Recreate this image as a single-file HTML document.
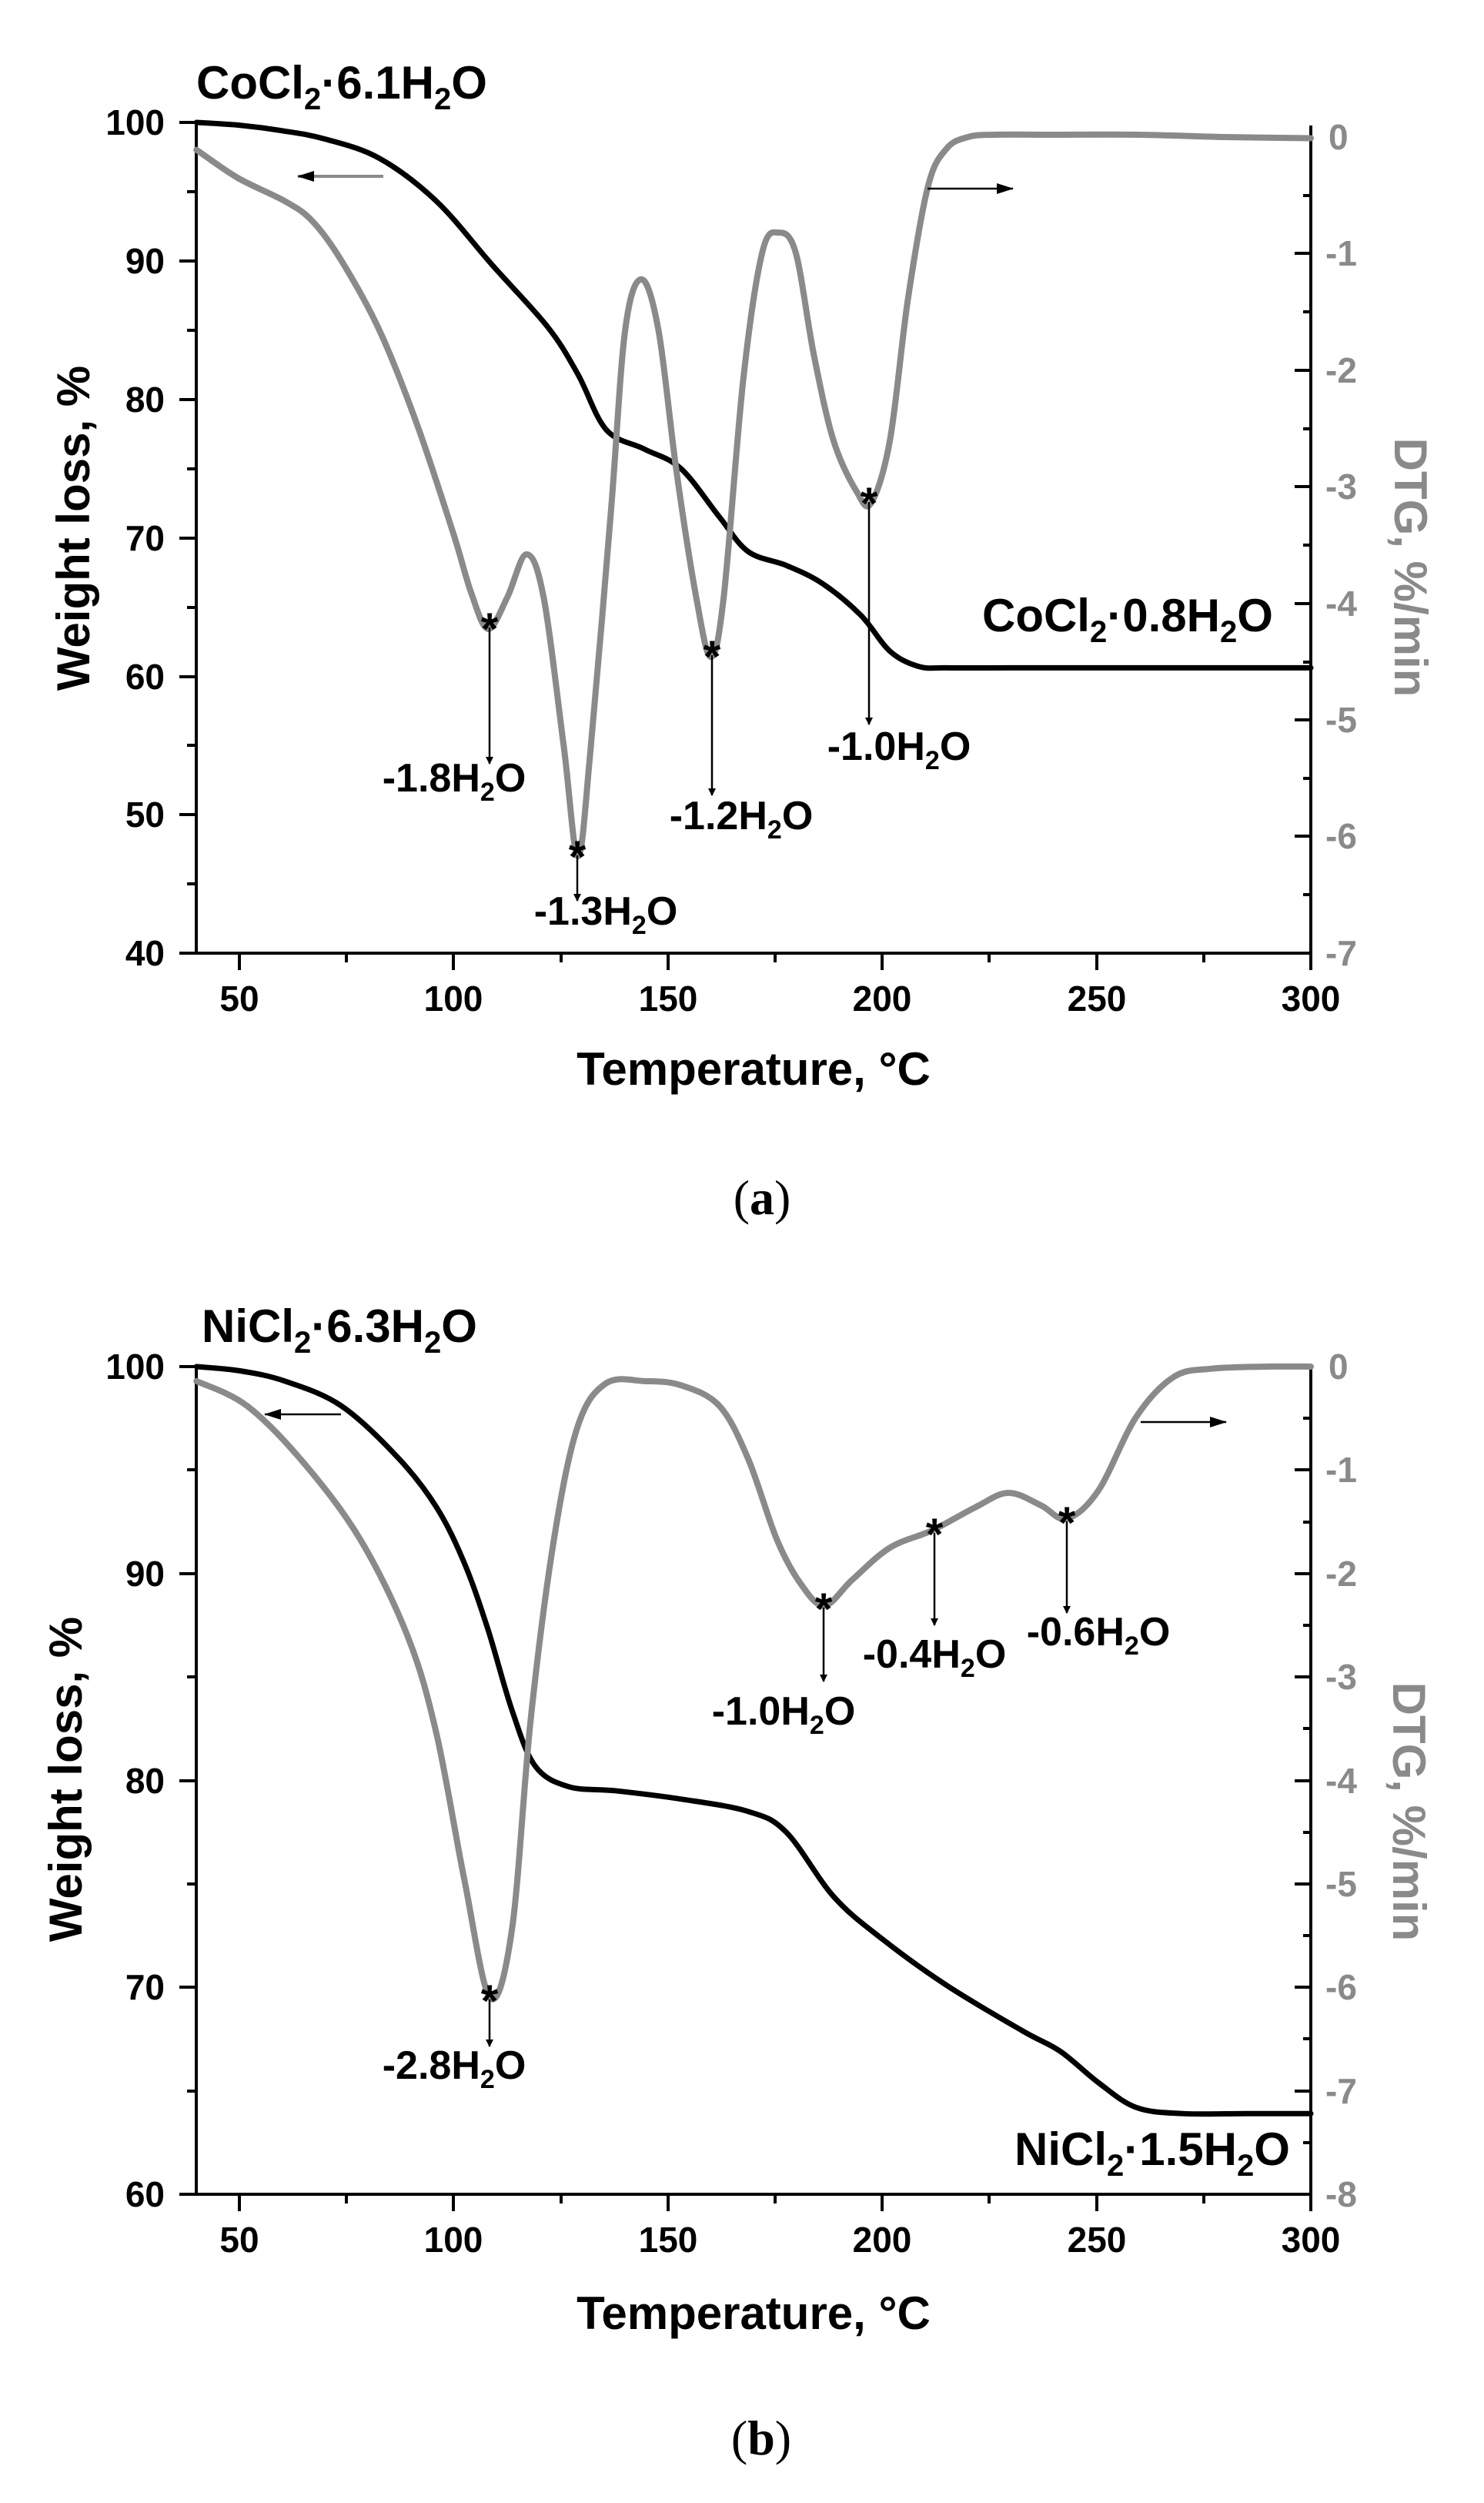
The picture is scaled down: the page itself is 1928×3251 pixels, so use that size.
<!DOCTYPE html>
<html><head><meta charset="utf-8"><style>
html,body{margin:0;padding:0;background:#fff;}
svg{display:block;}
text{font-family:"Liberation Sans",Arial,sans-serif;font-weight:bold;}
</style></head><body>
<svg width="1928" height="3251" viewBox="0 0 1928 3251" xmlns="http://www.w3.org/2000/svg">
<defs>
<marker id="ah" markerWidth="10" markerHeight="10" refX="9" refY="5" orient="auto" markerUnits="userSpaceOnUse"><path d="M0,0 L10,5 L0,10 z" fill="#000"/></marker>
<marker id="ah2" markerWidth="22" markerHeight="14" refX="21" refY="7" orient="auto" markerUnits="userSpaceOnUse"><path d="M0,0 L22,7 L0,14 z" fill="#000"/></marker>
</defs>
<rect width="1928" height="3251" fill="#fff"/>

<!-- ============ CHART A ============ -->
<g stroke="#000" stroke-width="4" fill="none">
<line x1="255" y1="159" x2="255" y2="1240"/>
<line x1="233" y1="1238" x2="1705" y2="1238"/>
<line x1="1703" y1="163" x2="1703" y2="1240"/>
<path d="M233,159H255M233,339H255M233,519H255M233,699H255M233,879H255M233,1058H255M243,249H255M243,429H255M243,609H255M243,789H255M243,968H255M243,1148H255"/>
<path d="M1682,178H1703M1682,329H1703M1682,481H1703M1682,632H1703M1682,784H1703M1682,935H1703M1682,1086H1703M1693,254H1703M1693,405H1703M1693,557H1703M1693,708H1703M1693,860H1703M1693,1011H1703M1693,1162H1703"/>
<path d="M311,1238V1260M589,1238V1260M868,1238V1260M1146,1238V1260M1425,1238V1260M1703,1238V1260M450,1238V1250M729,1238V1250M1007,1238V1250M1285,1238V1250M1564,1238V1250"/>
</g>
<g font-size="46" text-anchor="end" fill="#000">
<text x="214" y="175">100</text><text x="214" y="355">90</text><text x="214" y="535">80</text><text x="214" y="715">70</text><text x="214" y="895">60</text><text x="214" y="1074">50</text><text x="214" y="1254">40</text>
</g>
<g font-size="46" fill="#8a8a8a">
<text x="1726" y="194">0</text><text x="1722" y="345">-1</text><text x="1722" y="497">-2</text><text x="1722" y="648">-3</text><text x="1722" y="800">-4</text><text x="1722" y="951">-5</text><text x="1722" y="1102">-6</text><text x="1722" y="1254">-7</text>
</g>
<g font-size="46" text-anchor="middle" fill="#000">
<text x="311" y="1313">50</text><text x="589" y="1313">100</text><text x="868" y="1313">150</text><text x="1146" y="1313">200</text><text x="1425" y="1313">250</text><text x="1703" y="1313">300</text>
</g>
<text x="979" y="1409" font-size="60" text-anchor="middle">Temperature, °C</text>
<text transform="translate(116,686) rotate(-90)" font-size="60" text-anchor="middle">Weight loss, %</text>
<text transform="translate(1812,737) rotate(90)" font-size="60" text-anchor="middle" fill="#8a8a8a">DTG, %/min</text>
<text x="255" y="128" font-size="60">CoCl<tspan dy="14" font-size="40">2</tspan><tspan dy="-14">·6.1H</tspan><tspan dy="14" font-size="40">2</tspan><tspan dy="-14">O</tspan></text>
<text x="1276" y="820" font-size="60">CoCl<tspan dy="14" font-size="40">2</tspan><tspan dy="-14">·0.8H</tspan><tspan dy="14" font-size="40">2</tspan><tspan dy="-14">O</tspan></text>

<g fill="none" stroke-linejoin="round" stroke-linecap="round">
<polyline class="sm" transform="translate(32.6,1957) scale(5.568,-17.98)" vector-effect="non-scaling-stroke" stroke="#000" stroke-width="7"
points="40,100 50,99.8 60,99.4 70,98.8 82.7,97.4 96,94.3 109,89.7 122,85.2 129,81.8 135.6,77.8 144.5,76.4 153,75 162,71.5 168.7,69 177.6,68 186,66.7 195,64.4 201.8,61.8 208.5,60.7 215,60.6 230,60.6 250,60.6 275,60.6 300,60.6"/>
<polyline class="sm" transform="translate(32.6,178) scale(5.568,-151.4)" vector-effect="non-scaling-stroke" stroke="#8a8a8a" stroke-width="8"
points="40,-0.11 49.6,-0.35 60.6,-0.55 67,-0.72 73.8,-1.06 82.7,-1.66 91.5,-2.47 100,-3.41 104,-3.9 108,-4.22 112.5,-3.95 117,-3.58 121,-3.95 125.7,-5.23 129,-6.17 132,-5.23 136.7,-3.21 140,-1.66 143.8,-1.22 147.8,-1.66 152,-2.87 156.6,-3.95 160,-4.46 163,-3.95 167.6,-2.07 172,-0.99 175.8,-0.82 179.8,-0.99 184,-1.86 188.6,-2.6 194,-3.04 197.4,-3.14 201.8,-2.6 206,-1.39 210.7,-0.42 215,-0.1 220,0 226,0.02 240,0.02 260,0.02 280,0 300,-0.01"/>
</g>
<g stroke="#000" stroke-width="2.5" fill="none">
<line x1="636" y1="815" x2="636" y2="992" marker-end="url(#ah)"/>
<line x1="750" y1="1111" x2="750" y2="1170" marker-end="url(#ah)"/>
<line x1="925" y1="851" x2="925" y2="1033" marker-end="url(#ah)"/>
<line x1="1129" y1="652" x2="1129" y2="941" marker-end="url(#ah)"/>
<line x1="498" y1="229" x2="387" y2="229" stroke="#8a8a8a" stroke-width="4" marker-end="url(#ah2)"/>
<line x1="1205" y1="245" x2="1316" y2="245" marker-end="url(#ah2)"/>
</g>
<g font-size="58" text-anchor="middle" fill="#000">
<text x="636" y="837">*</text><text x="750" y="1133">*</text><text x="925" y="873">*</text><text x="1129" y="674">*</text>
</g>
<g font-size="52" text-anchor="middle">
<text x="590" y="1028">-1.8H<tspan dy="12" font-size="34">2</tspan><tspan dy="-12">O</tspan></text>
<text x="787" y="1201">-1.3H<tspan dy="12" font-size="34">2</tspan><tspan dy="-12">O</tspan></text>
<text x="963" y="1077">-1.2H<tspan dy="12" font-size="34">2</tspan><tspan dy="-12">O</tspan></text>
<text x="1168" y="987">-1.0H<tspan dy="12" font-size="34">2</tspan><tspan dy="-12">O</tspan></text>
</g>
<text x="990" y="1577" font-size="64" text-anchor="middle" style="font-family:'Liberation Serif',serif;font-weight:normal">(<tspan font-weight="bold">a</tspan>)</text>

<!-- ============ CHART B ============ -->
<g stroke="#000" stroke-width="4" fill="none">
<line x1="255" y1="1775" x2="255" y2="2852"/>
<line x1="233" y1="2850" x2="1705" y2="2850"/>
<line x1="1703" y1="1775" x2="1703" y2="2852"/>
<path d="M233,1775H255M233,2044H255M233,2313H255M233,2581H255M243,1909H255M243,2178H255M243,2447H255M243,2716H255"/>
<path d="M1682,1775H1703M1682,1909H1703M1682,2044H1703M1682,2178H1703M1682,2313H1703M1682,2447H1703M1682,2581H1703M1682,2716H1703M1693,1842H1703M1693,1977H1703M1693,2111H1703M1693,2245H1703M1693,2380H1703M1693,2514H1703M1693,2648H1703M1693,2783H1703"/>
<path d="M311,2850V2872M589,2850V2872M868,2850V2872M1146,2850V2872M1425,2850V2872M1703,2850V2872M450,2850V2862M729,2850V2862M1007,2850V2862M1285,2850V2862M1564,2850V2862"/>
</g>
<g font-size="46" text-anchor="end" fill="#000">
<text x="214" y="1791">100</text><text x="214" y="2060">90</text><text x="214" y="2329">80</text><text x="214" y="2597">70</text><text x="214" y="2866">60</text>
</g>
<g font-size="46" fill="#8a8a8a">
<text x="1726" y="1791">0</text><text x="1722" y="1925">-1</text><text x="1722" y="2060">-2</text><text x="1722" y="2194">-3</text><text x="1722" y="2329">-4</text><text x="1722" y="2463">-5</text><text x="1722" y="2597">-6</text><text x="1722" y="2732">-7</text><text x="1722" y="2866">-8</text>
</g>
<g font-size="46" text-anchor="middle" fill="#000">
<text x="311" y="2925">50</text><text x="589" y="2925">100</text><text x="868" y="2925">150</text><text x="1146" y="2925">200</text><text x="1425" y="2925">250</text><text x="1703" y="2925">300</text>
</g>
<text x="979" y="3025" font-size="60" text-anchor="middle">Temperature, °C</text>
<text transform="translate(106,2311) rotate(-90)" font-size="60" text-anchor="middle">Weight loss, %</text>
<text transform="translate(1810,2353) rotate(90)" font-size="60" text-anchor="middle" fill="#8a8a8a">DTG, %/min</text>
<text x="262" y="1743" font-size="60">NiCl<tspan dy="14" font-size="40">2</tspan><tspan dy="-14">·6.3H</tspan><tspan dy="14" font-size="40">2</tspan><tspan dy="-14">O</tspan></text>
<text x="1318" y="2812" font-size="60">NiCl<tspan dy="14" font-size="40">2</tspan><tspan dy="-14">·1.5H</tspan><tspan dy="14" font-size="40">2</tspan><tspan dy="-14">O</tspan></text>

<g fill="none" stroke-linejoin="round" stroke-linecap="round">
<polyline class="sm" transform="translate(32.6,4462.5) scale(5.568,-26.875)" vector-effect="non-scaling-stroke" stroke="#000" stroke-width="7"
points="40,100 50,99.8 60.6,99.3 73.8,98.1 87,95.6 96,93.2 102.5,90.5 108,87.3 113.6,83.4 119,80.7 126.8,79.7 137.8,79.5 153,79.1 168.7,78.5 177.6,77.5 188.6,74.4 199.6,72.4 215,70.1 232.7,67.9 241.6,66.9 250.4,65.4 259.2,64.2 270,63.9 285,63.9 300,63.9"/>
<polyline class="sm" transform="translate(32.6,1775) scale(5.568,-134.4)" vector-effect="non-scaling-stroke" stroke="#8a8a8a" stroke-width="8"
points="40,-0.14 51.8,-0.38 65,-0.93 78.2,-1.67 89.3,-2.61 96,-3.55 102.5,-4.96 108.5,-6.1 113.6,-5.44 118,-3.4 123.4,-1.67 129,-0.57 135.6,-0.16 144.5,-0.14 153,-0.18 162,-0.38 168.7,-0.89 175.4,-1.67 181,-2.1 186.5,-2.31 193,-2.06 201.8,-1.75 211.8,-1.58 221.7,-1.36 229.4,-1.22 237,-1.34 243,-1.47 250.4,-1.2 259.2,-0.49 268,-0.1 276.9,-0.02 290,0 300,0"/>
</g>
<g stroke="#000" stroke-width="2.5" fill="none">
<line x1="636" y1="2597" x2="636" y2="2658" marker-end="url(#ah)"/>
<line x1="1070" y1="2088" x2="1070" y2="2184" marker-end="url(#ah)"/>
<line x1="1214" y1="1991" x2="1214" y2="2111" marker-end="url(#ah)"/>
<line x1="1386" y1="1976" x2="1386" y2="2095" marker-end="url(#ah)"/>
<line x1="443" y1="1837" x2="344" y2="1837" marker-end="url(#ah2)"/>
<line x1="1482" y1="1847" x2="1593" y2="1847" marker-end="url(#ah2)"/>
</g>
<g font-size="58" text-anchor="middle" fill="#000">
<text x="636" y="2619">*</text><text x="1070" y="2110">*</text><text x="1214" y="2013">*</text><text x="1386" y="1998">*</text>
</g>
<g font-size="52" text-anchor="middle">
<text x="590" y="2700">-2.8H<tspan dy="12" font-size="34">2</tspan><tspan dy="-12">O</tspan></text>
<text x="1018" y="2240">-1.0H<tspan dy="12" font-size="34">2</tspan><tspan dy="-12">O</tspan></text>
<text x="1214" y="2166">-0.4H<tspan dy="12" font-size="34">2</tspan><tspan dy="-12">O</tspan></text>
<text x="1427" y="2137">-0.6H<tspan dy="12" font-size="34">2</tspan><tspan dy="-12">O</tspan></text>
</g>
<text x="989" y="3188" font-size="64" text-anchor="middle" style="font-family:'Liberation Serif',serif;font-weight:normal">(<tspan font-weight="bold">b</tspan>)</text>
</svg>
<script>
(function(){
var ns="http://www.w3.org/2000/svg";
document.querySelectorAll("polyline.sm").forEach(function(pl){
  var pts=pl.getAttribute("points").trim().split(/\s+/).map(function(s){var a=s.split(",");return [+a[0],+a[1]];});
  var d="M"+pts[0][0]+","+pts[0][1];
  for(var i=0;i<pts.length-1;i++){
    var p0=pts[i-1]||pts[i],p1=pts[i],p2=pts[i+1],p3=pts[i+2]||p2;
    var c1=[p1[0]+(p2[0]-p0[0])/6,p1[1]+(p2[1]-p0[1])/6];
    var c2=[p2[0]-(p3[0]-p1[0])/6,p2[1]-(p3[1]-p1[1])/6];
    d+=" C"+c1[0]+","+c1[1]+" "+c2[0]+","+c2[1]+" "+p2[0]+","+p2[1];
  }
  var p=document.createElementNS(ns,"path");
  ["transform","vector-effect","stroke","stroke-width","stroke-linejoin","stroke-linecap"].forEach(function(a){if(pl.getAttribute(a))p.setAttribute(a,pl.getAttribute(a));});
  p.setAttribute("d",d);p.setAttribute("fill","none");
  pl.parentNode.replaceChild(p,pl);
});
})();
</script>
</body></html>
